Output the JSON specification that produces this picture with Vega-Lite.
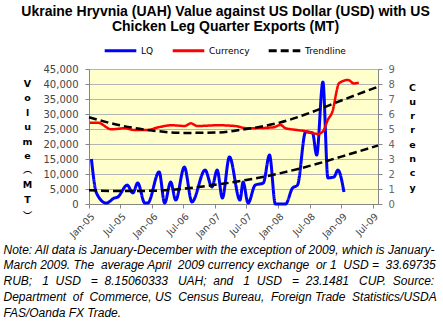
{
  "$schema": "https://vega.github.io/schema/vega-lite/v6.json",
  "width": 289,
  "height": 135,
  "autosize": {"type": "none"},
  "padding": {"left": 89, "top": 69, "right": 65, "bottom": 121},
  "background": "white",
  "title": {
    "text": ["Ukraine Hryvnia (UAH) Value against US Dollar (USD) with US", "Chicken Leg Quarter Exports (MT)"],
    "font": "Liberation Sans",
    "fontSize": 14,
    "fontWeight": "bold",
    "color": "#000000",
    "anchor": "middle",
    "lineHeight": 15.5,
    "dx": -8,
    "offset": -1
  },
  "datasets": {
    "lq": [
      {"date": "2005-01-15", "value": 15000, "series": "LQ"},
      {"date": "2005-02-13", "value": 3700, "series": "LQ"},
      {"date": "2005-04-11", "value": 300, "series": "LQ"},
      {"date": "2005-05-28", "value": 2000, "series": "LQ"},
      {"date": "2005-06-16", "value": 2300, "series": "LQ"},
      {"date": "2005-08-10", "value": 6300, "series": "LQ"},
      {"date": "2005-09-12", "value": 3700, "series": "LQ"},
      {"date": "2005-10-10", "value": 7000, "series": "LQ"},
      {"date": "2005-11-20", "value": 300, "series": "LQ"},
      {"date": "2005-12-07", "value": 300, "series": "LQ"},
      {"date": "2006-02-11", "value": 10700, "series": "LQ"},
      {"date": "2006-03-15", "value": 300, "series": "LQ"},
      {"date": "2006-04-19", "value": 7300, "series": "LQ"},
      {"date": "2006-05-18", "value": 1300, "series": "LQ"},
      {"date": "2006-07-07", "value": 12300, "series": "LQ"},
      {"date": "2006-08-20", "value": 700, "series": "LQ"},
      {"date": "2006-11-04", "value": 11300, "series": "LQ"},
      {"date": "2006-12-14", "value": 5700, "series": "LQ"},
      {"date": "2007-01-13", "value": 11300, "series": "LQ"},
      {"date": "2007-02-12", "value": 2000, "series": "LQ"},
      {"date": "2007-03-25", "value": 15700, "series": "LQ"},
      {"date": "2007-05-25", "value": 1300, "series": "LQ"},
      {"date": "2007-06-12", "value": 7300, "series": "LQ"},
      {"date": "2007-07-11", "value": 300, "series": "LQ"},
      {"date": "2007-08-21", "value": 6300, "series": "LQ"},
      {"date": "2007-10-07", "value": 7000, "series": "LQ"},
      {"date": "2007-11-12", "value": 16300, "series": "LQ"},
      {"date": "2007-12-16", "value": 0, "series": "LQ"},
      {"date": "2008-02-13", "value": 0, "series": "LQ"},
      {"date": "2008-03-24", "value": 5300, "series": "LQ"},
      {"date": "2008-04-22", "value": 6300, "series": "LQ"},
      {"date": "2008-06-08", "value": 24000, "series": "LQ"},
      {"date": "2008-07-18", "value": 23700, "series": "LQ"},
      {"date": "2008-08-11", "value": 16300, "series": "LQ"},
      {"date": "2008-09-16", "value": 40700, "series": "LQ"},
      {"date": "2008-10-15", "value": 8700, "series": "LQ"},
      {"date": "2008-11-19", "value": 9000, "series": "LQ"},
      {"date": "2008-12-12", "value": 11300, "series": "LQ"},
      {"date": "2009-01-16", "value": 4000, "series": "LQ"}
    ],
    "lqtrend": [
      {"date": "2005-01-01", "value": 4600, "series": "Trendline"},
      {"date": "2005-07-01", "value": 4300, "series": "Trendline"},
      {"date": "2006-01-01", "value": 4400, "series": "Trendline"},
      {"date": "2006-07-01", "value": 5100, "series": "Trendline"},
      {"date": "2007-01-01", "value": 6400, "series": "Trendline"},
      {"date": "2007-07-01", "value": 8000, "series": "Trendline"},
      {"date": "2008-01-01", "value": 10100, "series": "Trendline"},
      {"date": "2008-07-01", "value": 12700, "series": "Trendline"},
      {"date": "2009-01-01", "value": 15800, "series": "Trendline"},
      {"date": "2009-08-01", "value": 19500, "series": "Trendline"}
    ],
    "currency": [
      {"date": "2005-01-05", "value": 5.42, "series": "Currency"},
      {"date": "2005-02-21", "value": 5.42, "series": "Currency"},
      {"date": "2005-05-11", "value": 4.98, "series": "Currency"},
      {"date": "2005-07-26", "value": 5.05, "series": "Currency"},
      {"date": "2005-09-23", "value": 4.93, "series": "Currency"},
      {"date": "2005-12-02", "value": 4.93, "series": "Currency"},
      {"date": "2006-02-05", "value": 5.11, "series": "Currency"},
      {"date": "2006-04-25", "value": 5.25, "series": "Currency"},
      {"date": "2006-07-10", "value": 5.2, "series": "Currency"},
      {"date": "2006-08-14", "value": 5.38, "series": "Currency"},
      {"date": "2006-09-19", "value": 5.2, "series": "Currency"},
      {"date": "2007-01-19", "value": 5.25, "series": "Currency"},
      {"date": "2007-04-26", "value": 5.2, "series": "Currency"},
      {"date": "2007-07-05", "value": 5.05, "series": "Currency"},
      {"date": "2007-12-04", "value": 5.11, "series": "Currency"},
      {"date": "2008-01-14", "value": 5.27, "series": "Currency"},
      {"date": "2008-02-13", "value": 5.05, "series": "Currency"},
      {"date": "2008-04-22", "value": 4.93, "series": "Currency"},
      {"date": "2008-06-25", "value": 4.82, "series": "Currency"},
      {"date": "2008-08-17", "value": 4.67, "series": "Currency"},
      {"date": "2008-09-15", "value": 4.82, "series": "Currency"},
      {"date": "2008-10-14", "value": 5.6, "series": "Currency"},
      {"date": "2008-11-13", "value": 6.27, "series": "Currency"},
      {"date": "2008-12-06", "value": 7.6, "series": "Currency"},
      {"date": "2008-12-17", "value": 8.04, "series": "Currency"},
      {"date": "2009-02-09", "value": 8.27, "series": "Currency"},
      {"date": "2009-03-14", "value": 8.04, "series": "Currency"},
      {"date": "2009-04-12", "value": 8.09, "series": "Currency"}
    ],
    "curtrend": [
      {"date": "2005-01-01", "value": 5.78, "series": "Trendline"},
      {"date": "2005-07-01", "value": 5.24, "series": "Trendline"},
      {"date": "2006-01-01", "value": 4.9, "series": "Trendline"},
      {"date": "2006-07-01", "value": 4.74, "series": "Trendline"},
      {"date": "2007-01-01", "value": 4.76, "series": "Trendline"},
      {"date": "2007-07-01", "value": 5.0, "series": "Trendline"},
      {"date": "2008-01-01", "value": 5.4, "series": "Trendline"},
      {"date": "2008-07-01", "value": 6.07, "series": "Trendline"},
      {"date": "2009-01-01", "value": 6.9, "series": "Trendline"},
      {"date": "2009-08-01", "value": 7.82, "series": "Trendline"}
    ]
  },
  "config": {
    "view": {"fill": "#FFFFCC", "stroke": "#C0C0C0"},
    "axis": {"domainColor": "#868686", "tickColor": "#868686", "tickSize": 4, "labelOverlap": false}
  },
  "encoding": {
    "x": {
      "field": "date", "type": "temporal",
      "scale": {"type": "utc", "domain": [{"year": 2005, "month": 1, "date": 1, "utc": true}, {"year": 2009, "month": 8, "date": 1, "utc": true}]},
      "axis": {
        "values": [
          {"year": 2005, "month": 1, "date": 1, "utc": true},
          {"year": 2005, "month": 7, "date": 1, "utc": true},
          {"year": 2006, "month": 1, "date": 1, "utc": true},
          {"year": 2006, "month": 7, "date": 1, "utc": true},
          {"year": 2007, "month": 1, "date": 1, "utc": true},
          {"year": 2007, "month": 7, "date": 1, "utc": true},
          {"year": 2008, "month": 1, "date": 1, "utc": true},
          {"year": 2008, "month": 7, "date": 1, "utc": true},
          {"year": 2009, "month": 1, "date": 1, "utc": true},
          {"year": 2009, "month": 7, "date": 1, "utc": true}
        ],
        "format": "%b-%y",
        "labelAngle": -45,
        "labelFont": "DejaVu Sans",
        "labelFontSize": 9.5,
        "labelColor": "#444444",
        "labelOverlap": false,
        "labelPadding": 3,
        "grid": false,
        "title": [
          "Note: All data is January-December with the exception of 2009, which is January-",
          "March 2009. The\u00a0 average April\u00a0 2009 currency exchange\u00a0 or 1\u00a0 USD =\u00a0 33.69735",
          "RUB;\u00a0\u00a0 1\u00a0 USD\u00a0\u00a0 =\u00a0 8.15060333\u00a0\u00a0 UAH;\u00a0 and\u00a0\u00a0 1\u00a0 USD\u00a0\u00a0 =\u00a0 23.1481\u00a0\u00a0 CUP.\u00a0 Source:",
          "Department\u00a0 of\u00a0 Commerce, US\u00a0 Census Bureau,\u00a0 Foreign Trade\u00a0 Statistics/USDA",
          "FAS/Oanda FX Trade."
        ],
        "titleFont": "Liberation Sans",
        "titleFontSize": 12,
        "titleFontStyle": "italic",
        "titleFontWeight": "normal",
        "titleColor": "#000000",
        "titleAnchor": "start",
        "titleAlign": "left",
        "titleBaseline": "alphabetic",
        "titleLineHeight": 15.8,
        "titleX": -86,
        "titleY": 49
      }
    },
    "color": {
      "field": "series", "type": "nominal",
      "scale": {"domain": ["LQ", "Currency", "Trendline"], "range": ["#0000FF", "#FF0000", "#000000"]},
      "legend": {
        "orient": "none", "legendX": 14, "legendY": -36, "direction": "horizontal", "title": null,
        "symbolType": "stroke", "symbolSize": 1000, "symbolStrokeWidth": 3,
        "labelFont": "DejaVu Sans", "labelFontSize": 9, "labelColor": "#000000",
        "columnPadding": 12, "labelOffset": 3, "padding": 0
      }
    },
    "strokeDash": {
      "field": "series", "type": "nominal",
      "scale": {"domain": ["LQ", "Currency", "Trendline"], "range": [[1, 0], [1, 0], [8, 4]]},
      "legend": {
        "orient": "none", "legendX": 14, "legendY": -36, "direction": "horizontal", "title": null,
        "symbolType": "stroke", "symbolSize": 1000, "symbolStrokeWidth": 3,
        "labelFont": "DejaVu Sans", "labelFontSize": 9, "labelColor": "#000000",
        "columnPadding": 12, "labelOffset": 3, "padding": 0
      }
    }
  },
  "layer": [
    {
      "data": {"name": "lq"},
      "mark": {"type": "line", "interpolate": "monotone", "strokeWidth": 3},
      "encoding": {
        "y": {
          "field": "value", "type": "quantitative",
          "scale": {"domain": [0, 45000], "nice": false},
          "axis": {
            "values": [0, 5000, 10000, 15000, 20000, 25000, 30000, 35000, 40000, 45000],
            "format": ",.0f",
            "labelFont": "DejaVu Sans",
            "labelFontSize": 10,
            "labelColor": "#444444",
            "labelPadding": 7,
            "grid": true,
            "gridColor": "#B4B4B4",
            "title": ["V", "o", "l", "u", "m", "e", "\ufe35", "M", "T", "\ufe36"],
            "titleAngle": 0,
            "titleFont": "DejaVu Sans",
            "titleFontSize": 9.5,
            "titleFontWeight": "bold",
            "titleColor": "#000000",
            "titleAlign": "center",
            "titleBaseline": "middle",
            "titleLineHeight": 14.5,
            "titleX": -62,
            "titleY": 14
          }
        }
      }
    },
    {
      "data": {"name": "lqtrend"},
      "mark": {"type": "line", "interpolate": "monotone", "strokeWidth": 2.5},
      "encoding": {
        "y": {"field": "value", "type": "quantitative", "scale": {"domain": [0, 45000], "nice": false}, "axis": null}
      }
    },
    {
      "data": {"name": "currency"},
      "mark": {"type": "line", "interpolate": "monotone", "strokeWidth": 2.5},
      "encoding": {
        "y": {
          "field": "value", "type": "quantitative",
          "scale": {"domain": [0, 9], "nice": false},
          "axis": {
            "orient": "right",
            "values": [0, 1, 2, 3, 4, 5, 6, 7, 8, 9],
            "labelFont": "DejaVu Sans",
            "labelFontSize": 10,
            "labelColor": "#666666",
            "labelPadding": 6,
            "grid": false,
            "title": ["C", "u", "r", "r", "e", "n", "c", "y"],
            "titleAngle": 0,
            "titleFont": "DejaVu Sans",
            "titleFontSize": 9.5,
            "titleFontWeight": "bold",
            "titleColor": "#000000",
            "titleAlign": "center",
            "titleBaseline": "middle",
            "titleLineHeight": 14.3,
            "titleX": 34,
            "titleY": 18
          }
        }
      }
    },
    {
      "data": {"name": "curtrend"},
      "mark": {"type": "line", "interpolate": "monotone", "strokeWidth": 2.5},
      "encoding": {
        "y": {"field": "value", "type": "quantitative", "scale": {"domain": [0, 9], "nice": false}, "axis": null}
      }
    }
  ],
  "resolve": {"scale": {"y": "independent"}}
}
